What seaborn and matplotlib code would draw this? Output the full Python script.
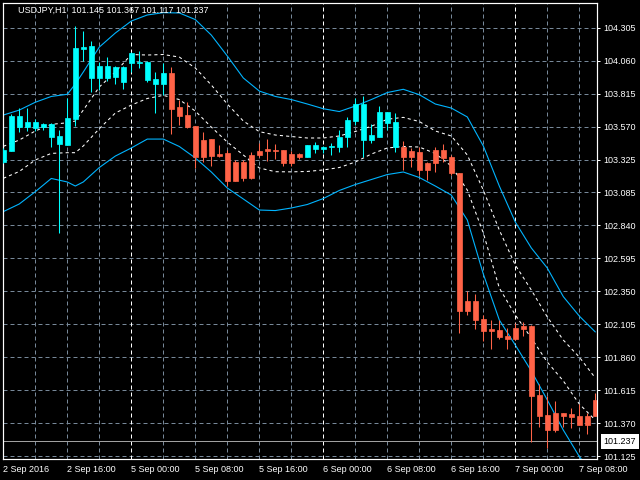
import numpy as np
import pandas as pd
import matplotlib
matplotlib.use("Agg")
import matplotlib.pyplot as plt
import matplotlib.transforms as mtransforms
import seaborn as sns

# ---------------- data ----------------
symbol_header = "USDJPY,H1  101.145 101.367 101.117 101.237"
last_price = 101.237

opens = [103.310, 103.392, 103.570, 103.570, 103.560, 103.565, 103.496, 103.441, 103.434, 103.627,
         104.146, 103.933, 103.933, 103.933, 103.936, 103.903, 104.044, 104.040, 103.916, 103.886,
         103.886, 103.968, 103.716, 103.656, 103.575, 103.471, 103.478, 103.370, 103.377, 103.310,
         103.310, 103.360, 103.392, 103.404, 103.397, 103.397, 103.367, 103.367, 103.347, 103.404,
         103.407, 103.419, 103.421, 103.496, 103.614, 103.471, 103.471, 103.496, 103.599, 103.417,
         103.421, 103.390, 103.384, 103.303, 103.397, 103.397, 103.347, 103.229, 102.278, 102.278,
         102.144, 102.070, 102.063, 102.018, 102.075, 102.092, 102.092, 101.581, 101.433, 101.450,
         101.450, 101.438, 101.425, 101.425, 101.544]
highs = [103.414, 103.662, 103.706, 103.711, 103.627, 103.599, 103.597, 103.545, 103.785, 104.316,
         104.281, 104.205, 104.052, 104.084, 104.022, 104.020, 104.126, 104.131, 104.057, 103.973,
         104.044, 104.014, 103.768, 103.751, 103.575, 103.528, 103.478, 103.434, 103.397, 103.323,
         103.323, 103.384, 103.451, 103.476, 103.439, 103.397, 103.392, 103.377, 103.434, 103.458,
         103.429, 103.447, 103.545, 103.644, 103.780, 103.797, 103.590, 103.723, 103.676, 103.669,
         103.466, 103.410, 103.421, 103.308, 103.421, 103.441, 103.360, 103.229, 102.352, 102.330,
         102.174, 102.137, 102.137, 102.075, 102.112, 102.124, 102.100, 101.662, 101.576, 101.536,
         101.450, 101.482, 101.514, 101.445, 101.593]
lows = [103.303, 103.392, 103.533, 103.538, 103.538, 103.545, 103.421, 102.779, 103.434, 103.575,
        104.059, 103.829, 103.842, 103.911, 103.886, 103.847, 103.977, 104.003, 103.903, 103.673,
        103.805, 103.513, 103.582, 103.562, 103.266, 103.310, 103.281, 103.347, 103.132, 103.167,
        103.169, 103.182, 103.343, 103.318, 103.328, 103.278, 103.278, 103.328, 103.347, 103.377,
        103.372, 103.360, 103.384, 103.421, 103.582, 103.347, 103.451, 103.496, 103.545, 103.384,
        103.249, 103.273, 103.212, 103.175, 103.236, 103.310, 103.212, 102.038, 102.174, 102.068,
        101.983, 101.922, 101.996, 101.922, 101.989, 102.018, 101.230, 101.341, 101.186, 101.309,
        101.340, 101.334, 101.358, 101.292, 101.425]
closes = [103.397, 103.649, 103.649, 103.604, 103.604, 103.590, 103.587, 103.501, 103.634, 104.155,
          104.160, 104.168, 104.020, 104.020, 104.014, 104.014, 104.114, 104.052, 104.052, 103.923,
          103.968, 103.703, 103.651, 103.570, 103.347, 103.347, 103.355, 103.355, 103.169, 103.169,
          103.187, 103.187, 103.360, 103.392, 103.392, 103.303, 103.303, 103.347, 103.434, 103.434,
          103.419, 103.424, 103.496, 103.619, 103.738, 103.736, 103.508, 103.681, 103.676, 103.602,
          103.347, 103.343, 103.249, 103.249, 103.298, 103.335, 103.224, 102.206, 102.206, 102.137,
          102.055, 102.057, 102.011, 101.998, 101.996, 102.070, 101.576, 101.427, 101.321, 101.321,
          101.427, 101.420, 101.358, 101.358, 101.425]

# bar times (H1, weekend skipped)
times = pd.date_range("2016-09-02 08:00", "2016-09-02 23:00", freq="h").append(
    pd.date_range("2016-09-05 00:00", "2016-09-07 10:00", freq="h"))

# band samples (bar index -> price)
band_idx = [0, 2, 4, 6, 8, 9, 10, 12, 14, 16, 18, 20, 22, 24, 26, 28, 30, 32, 34, 36, 38,
            40, 42, 44, 46, 48, 50, 52, 54, 56, 58, 60, 62, 64, 66, 68, 70, 72, 74]
upper_outer = [103.656, 103.693, 103.751, 103.794, 103.810, 103.886, 103.975, 104.160, 104.264,
               104.353, 104.398, 104.415, 104.413, 104.364, 104.249, 104.094, 103.931, 103.834,
               103.794, 103.771, 103.738, 103.703, 103.682, 103.723, 103.771, 103.823, 103.847,
               103.807, 103.738, 103.708, 103.642, 103.427, 103.130, 102.863, 102.671, 102.522,
               102.310, 102.166, 102.048]
upper_inner = [103.424, 103.471, 103.538, 103.587, 103.599, 103.612, 103.693, 103.864, 103.975,
               104.105, 104.101, 104.105, 104.086, 104.005, 103.879, 103.738, 103.612, 103.533,
               103.508, 103.497, 103.486, 103.486, 103.501, 103.534, 103.573, 103.625, 103.639,
               103.608, 103.538, 103.501, 103.360, 103.100, 102.804, 102.544, 102.359, 102.159,
               101.988, 101.862, 101.707]
lower_inner = [103.187, 103.238, 103.323, 103.372, 103.377, 103.377, 103.427, 103.555, 103.671,
               103.730, 103.779, 103.802, 103.771, 103.686, 103.567, 103.456, 103.360, 103.264,
               103.236, 103.235, 103.238, 103.249, 103.267, 103.308, 103.367, 103.412, 103.423,
               103.419, 103.371, 103.278, 103.100, 102.782, 102.374, 102.174, 102.003, 101.825,
               101.685, 101.514, 101.395]
lower_outer = [102.940, 102.997, 103.088, 103.186, 103.160, 103.130, 103.160, 103.267, 103.352,
               103.412, 103.478, 103.478, 103.423, 103.338, 103.234, 103.115, 103.034, 102.952,
               102.948, 102.967, 102.993, 103.037, 103.097, 103.141, 103.178, 103.215, 103.234,
               103.193, 103.130, 103.063, 102.878, 102.478, 102.137, 101.951, 101.759, 101.544,
               101.321, 101.125, 100.966]

y_ticks = [104.305, 104.060, 103.815, 103.570, 103.325, 103.085, 102.840, 102.595,
           102.350, 102.105, 101.860, 101.615, 101.370, 101.125]

# ---------------- styling ----------------
BULL = "#00FFFF"
BEAR = "#FF6347"
BAND = "#00B4FF"
GRID = "#778899"
FONT = "Liberation Sans"
FS = 6.5
PX = 0.72  # one pixel in points at dpi 100

sns.set_style("dark")
plt.rcParams["font.family"] = [FONT, "DejaVu Sans"]

fig = plt.figure(figsize=(6.4, 4.8), dpi=100, facecolor="black")
ax = fig.add_axes([2.7 / 640, (480 - 459.3) / 480, 594.6 / 640, 456.6 / 480])
ax.set_facecolor("black")

n = len(opens)
idx = np.arange(n)
df = pd.DataFrame({"i": idx, "o": opens, "h": highs, "l": lows, "c": closes})
df["bull"] = df["c"] >= df["o"]
df["color"] = np.where(df["bull"], BULL, BEAR)

# grid: every 4 bars vertical, y ticks horizontal
hours = np.array([t.hour for t in times])
grid_pos = idx[hours % 4 == 0]
label_pos = idx[hours % 8 == 0]
sep_pos = idx[(hours == 0)]
labels = []
for k, p in enumerate(label_pos):
    t = times[p]
    if k == 0:
        labels.append(f"{t.day} {t.strftime('%b')} {t.year}")
    else:
        labels.append(f"{t.day} {t.strftime('%b')} {t.strftime('%H:%M')}")

dash = (0, (4, 3))
for p in grid_pos:
    if p in sep_pos:
        continue
    ax.axvline(p, color=GRID, lw=PX, ls=dash, zorder=0.5)
for p in sep_pos:
    ax.axvline(p, color="white", lw=PX, ls=dash, zorder=0.6)
for yv in y_ticks:
    ax.axhline(yv, color=GRID, lw=PX, ls=dash, zorder=0.5)

# current price line
ax.axhline(last_price, color="#A0A0A0", lw=PX, zorder=0.7)

# bands via seaborn
bands = pd.DataFrame({"i": band_idx, "uo": upper_outer, "ui": upper_inner,
                      "li": lower_inner, "lo": lower_outer})
for col in ["uo", "lo"]:
    sns.lineplot(data=bands, x="i", y=col, ax=ax, color=BAND, linewidth=0.8,
                 estimator=None, sort=False, zorder=2)
for col in ["ui", "li"]:
    sns.lineplot(data=bands, x="i", y=col, ax=ax, color="white", linewidth=0.75,
                 linestyle=(0, (3, 3)), estimator=None, sort=False, zorder=2)

# candles
ax.vlines(df["i"], df["l"], df["h"], colors=df["color"], lw=PX * 1.05, zorder=3)
body_lo = np.minimum(df["o"], df["c"])
body_h = np.abs(df["c"] - df["o"])
ax.bar(df["i"], body_h, bottom=body_lo, width=0.62, color=df["color"],
       edgecolor=df["color"], linewidth=0.5, zorder=4)

# axes limits
ax.set_xlim(-0.075, 74.25)
ax.set_ylim(101.104, 104.489)

# ticks
ax.set_xticks(label_pos)
ax.set_xticklabels(labels)
ax.set_yticks(y_ticks)
ax.set_yticklabels([f"{v:.3f}" for v in y_ticks])
ax.yaxis.tick_right()
ax.tick_params(axis="x", colors="white", labelcolor="white", length=2.7, width=PX,
               pad=1.6, labelsize=FS, direction="out")
ax.tick_params(axis="y", colors="white", labelcolor="white", length=2.4, width=PX,
               pad=2.0, labelsize=FS, direction="out")
for lab in ax.get_xticklabels():
    lab.set_horizontalalignment("left")
    lab.set_fontfamily([FONT, "DejaVu Sans"])
for lab in ax.get_yticklabels():
    lab.set_fontfamily([FONT, "DejaVu Sans"])
ax.set_xlabel("")
ax.set_ylabel("")
ax.grid(False)
for s in ax.spines.values():
    s.set_visible(True)
    s.set_color("white")
    s.set_linewidth(PX * 1.2)

# price tag on the right axis
trans = mtransforms.blended_transform_factory(ax.transAxes, ax.transData)
ax.text(1.0105, last_price, f"{last_price:.3f}", transform=trans, ha="left", va="center",
        fontsize=FS, color="black", family=[FONT, "DejaVu Sans"], zorder=10, clip_on=False,
        bbox=dict(boxstyle="square,pad=0.3", fc="white", ec="none"))

# header text
fig.text(18.3 / 640, 1 - 10.8 / 480, symbol_header, color="white", fontsize=FS,
         va="center", ha="left", family=[FONT, "DejaVu Sans"])

fig.savefig("out.png", dpi=100, facecolor="black")
